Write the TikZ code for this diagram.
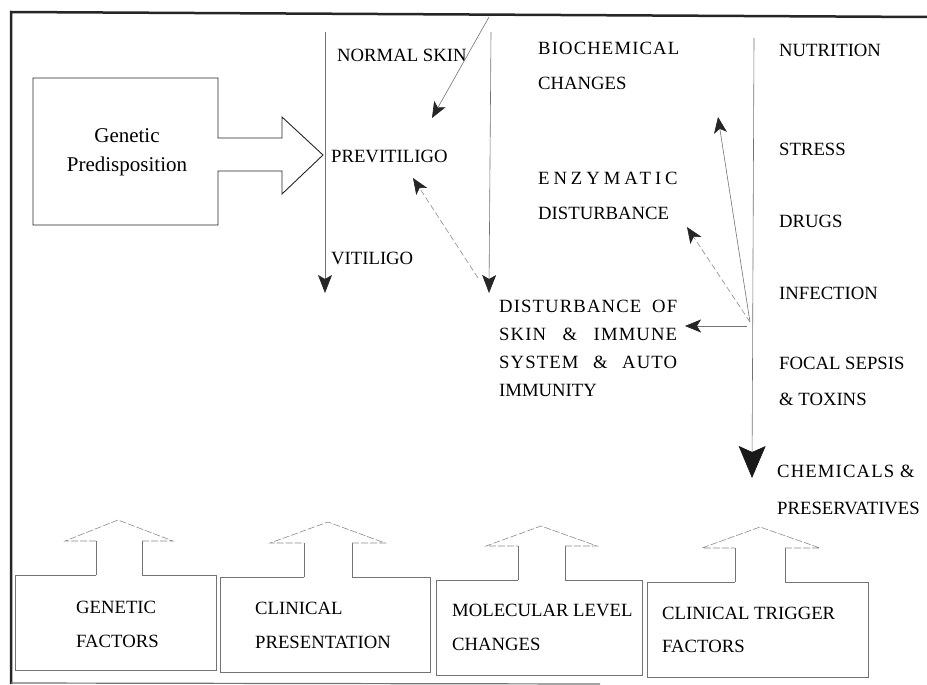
\documentclass[tikz,border=0pt]{standalone}
\usepackage{fontspec}
\setmainfont{Liberation Serif}
\usetikzlibrary{arrows.meta}
\tikzset{
  lbl/.style={anchor=base west,inner sep=0pt,font=\fontsize{18.7}{21}\selectfont},
  gline/.style={draw=black!55,line width=0.6pt},
  sline/.style={draw=black!45,line width=0.6pt},
  dline/.style={draw=black!85,line width=0.9pt},
  tipS/.style={-{Stealth[length=16pt,width=13pt,inset=4pt,color=black!85]}},
  tipM/.style={-{Stealth[length=18pt,width=14pt,inset=4pt,color=black!85]}},
  tipL/.style={-{Stealth[length=32pt,width=27pt,inset=6pt,color=black!90]}},
}
\newcommand{\spreadline}[1]{\addfontfeatures{LetterSpace=6}\makebox[178pt][s]{#1}}
\begin{document}
\begin{tikzpicture}[x=1pt,y=-1pt]
\useasboundingbox (0,0) rectangle (927,685);
\fill[white] (0,0) rectangle (927,685);
% outer frame
\draw[black!85,line width=2.5pt] (11,684) -- (11,12) -- (927,17);
\draw[black!55,line width=1.2pt] (11,683) -- (600,684);

% Genetic predisposition box with block arrow
\draw[dline] (218,138) -- (218,78) -- (33,78) -- (33,225) -- (218,225) -- (218,171)
  -- (282,171) -- (282,194) -- (323,155) -- (282,117) -- (282,138) -- cycle;
\node[align=center,inner sep=0pt,font=\fontsize{21}{29}\selectfont] (gp) at (127,152) {Genetic\\Predisposition};

% texts column 1
\node[lbl] (ns) at (337,62) {NORMAL SKIN};
\node[lbl] (pv) at (331,162) {PREVITILIGO};
\node[lbl] (vt) at (331,264) {VITILIGO};

% column 2
\node[lbl] (bc) at (538,55) {\addfontfeatures{LetterSpace=6}BIOCHEMICAL};
\node[lbl] (bc2) at (538,90) {CHANGES};
\node[lbl] (ez) at (538,184) {\addfontfeatures{LetterSpace=21}ENZYMATIC};
\node[lbl] (ez2) at (538,219) {DISTURBANCE};
\node[lbl] (ds1) at (499,312) {\spreadline{DISTURBANCE\ OF}};
\node[lbl] (ds2) at (499,340) {\spreadline{SKIN\ \&\ IMMUNE}};
\node[lbl] (ds3) at (499,368) {\spreadline{SYSTEM\ \&\ AUTO}};
\node[lbl] (ds4) at (499,396) {IMMUNITY};

% column 3
\node[lbl] (nu) at (779,57) {NUTRITION};
\node[lbl] (st) at (779,155) {STRESS};
\node[lbl] (dr) at (779,227) {DRUGS};
\node[lbl] (in) at (779,299) {INFECTION};
\node[lbl] (fs) at (779,369) {FOCAL SEPSIS};
\node[lbl] (tx) at (779,405) {\& TOXINS};
\node[lbl] (ch) at (777,477) {\addfontfeatures{LetterSpace=6}CHEMICALS \&};
\node[lbl] (pr) at (777,514) {PRESERVATIVES};

% connector end points
\coordinate (v1a) at (325,32);  \coordinate (v1b) at (325,293);
\coordinate (v2a) at (491,32);  \coordinate (v2b) at (489,293);
\coordinate (v3a) at (754,38);  \coordinate (v3b) at (752,478);
\coordinate (nsa) at (489,17);  \coordinate (nsb) at (432,118);
\coordinate (pva) at (478,278); \coordinate (pvb) at (413,178);
\coordinate (src) at (750,322);
\coordinate (bcb) at (718,117);
\coordinate (ezb) at (687,227);
\coordinate (hsa) at (747,326); \coordinate (dsb) at (685,326);

\draw[gline,tipM] (v1a) -- (v1b);
\draw[gline,tipM] (v2a) -- (v2b);
\draw[gline,tipL] (v3a) -- (v3b);
\draw[gline,tipS] (nsa) -- (nsb);
\draw[sline,dash pattern=on 6pt off 3pt,tipS] (pva) -- (pvb);
\draw[gline,tipS] (src) -- (bcb);
\draw[sline,dash pattern=on 6pt off 3pt,tipS] (src) -- (ezb);
\draw[gline,tipS] (hsa) -- (dsb);

% bottom boxes with up block arrows
\draw[gline] (96,575) -- (15,575) -- (15,670) -- (216,670) -- (216,575) -- (142,575) -- (142,541);
\draw[gline] (96,541) -- (96,575);
\draw[sline,dash pattern=on 7pt off 2pt] (142,541) -- (173,541) -- (118,520) -- (65,541) -- (96,541);
\draw[gline] (304,577) -- (220,577) -- (220,672) -- (430,672) -- (430,577) -- (352,577) -- (352,543);
\draw[gline] (304,543) -- (304,577);
\draw[sline,dash pattern=on 7pt off 2pt] (352,543) -- (385,543) -- (328,522) -- (270,543) -- (304,543);
\draw[gline] (518,580) -- (436,580) -- (436,675) -- (642,675) -- (642,580) -- (565,580) -- (565,546);
\draw[gline] (518,546) -- (518,580);
\draw[sline,dash pattern=on 7pt off 2pt] (565,546) -- (597,546) -- (541,526) -- (486,546) -- (518,546);
\draw[gline] (735,582) -- (647,582) -- (647,677) -- (868,677) -- (868,582) -- (785,582) -- (785,548);
\draw[gline] (735,548) -- (735,582);
\draw[sline,dash pattern=on 7pt off 2pt] (785,548) -- (820,548) -- (760,527) -- (702,548) -- (735,548);

\node[lbl] (gf) at (76,613) {GENETIC};
\node[lbl] (gf2) at (76,647) {FACTORS};
\node[lbl] (cp) at (255,614) {CLINICAL};
\node[lbl] (cp2) at (255,648) {PRESENTATION};
\node[lbl] (ml) at (452,616) {MOLECULAR LEVEL};
\node[lbl] (ml2) at (452,650) {CHANGES};
\node[lbl] (ct) at (662,619) {CLINICAL TRIGGER};
\node[lbl] (ct2) at (662,652) {FACTORS};
\end{tikzpicture}
\end{document}
